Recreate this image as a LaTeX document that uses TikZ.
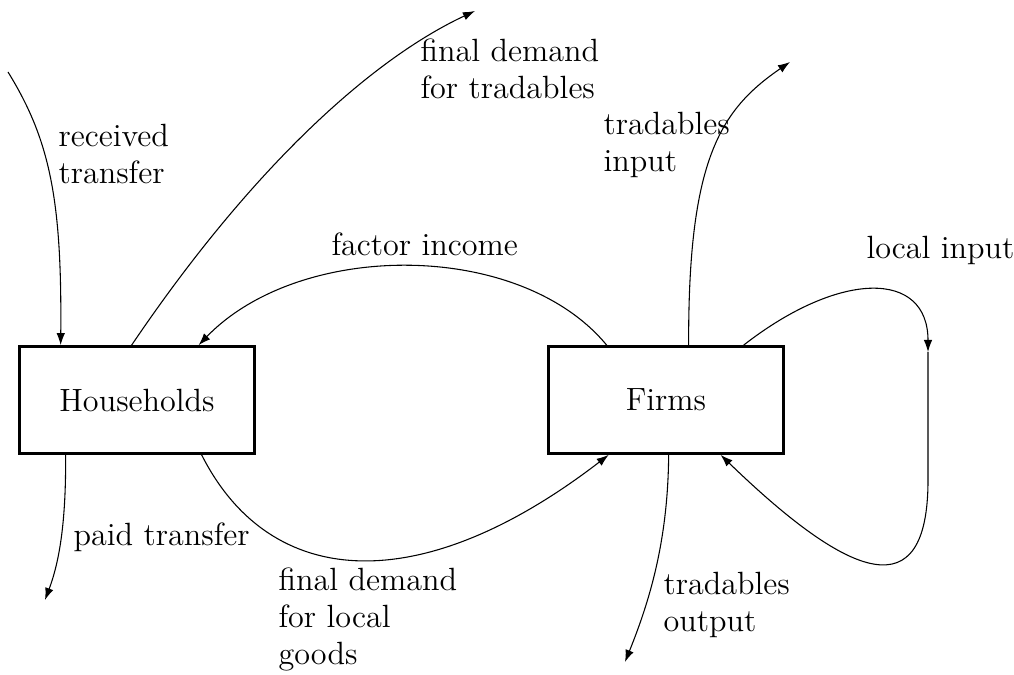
\documentclass[tikz,border=0pt]{standalone}
\usetikzlibrary{arrows.meta,calc}
\tikzset{
  sector/.style={draw,line width=1.1pt,minimum width=3.09cm,minimum height=1.40cm,inner sep=0pt},
  flow/.style={line width=0.4pt,-{Latex[length=4.5pt,width=3.2pt]}},
  lbl/.style={anchor=north west,inner sep=0pt,align=left}
}
\begin{document}
\begin{tikzpicture}[x=0.01311cm,y=-0.01311cm,font=\fontsize{12}{13.8}\selectfont]
        \useasboundingbox (0,0) rectangle (1014,675);

        \node[sector] (hh) at (137,400) {Households};
        \node[sector] (firm) at (666,400) {Firms};

        \coordinate (rt) at (8,72);
        \coordinate (fdt) at (475,11);
        \coordinate (ti) at (790,62);
        \coordinate (li) at (928,352);
        \coordinate (pt) at (45,600);
        \coordinate (to) at (625,662);

        \draw[flow] (rt) .. controls (50,140) and (62,200) .. ($(hh.north west)+(43,0)$);
        \draw[flow] ($(hh.north west)+(114,0)$) .. controls (250,170) and (370,60) .. (fdt);
        \draw[flow] ($(firm.north west)+(60,0)$) .. controls (520,240) and (300,240) .. ($(hh.north west)+(181,0)$);
        \draw[flow] ($(firm.north west)+(142,0)$) .. controls (688,160) and (720,110) .. (ti);
        \draw[flow] ($(firm.north west)+(197,0)$) .. controls (840,270) and (928,270) .. (li);
        \draw[flow] (li) -- (928,480) .. controls (928,610) and (850,580) .. ($(firm.south west)+(174,0)$);
        \draw[flow] ($(hh.south west)+(48,0)$) .. controls (66,520) and (60,560) .. (pt);
        \draw[flow] ($(hh.south west)+(184,0)$) .. controls (270,590) and (420,600) .. ($(firm.south west)+(62,0)$);
        \draw[flow] ($(firm.south west)+(122,0)$) .. controls (668,540) and (650,600) .. (to);

        \node[lbl] (l1) at (58,124) {received\\transfer};
        \node[lbl] (l2) at (420,38) {final demand\\for tradables};
        \node[lbl] (l3) at (603,112) {tradables\\input};
        \node[lbl] (l4) at (331,232) {factor income};
        \node[lbl] (l5) at (866,236) {local input};
        \node[lbl] (l6) at (73,522) {paid transfer};
        \node[lbl] (l7) at (278,567) {final demand\\for local\\goods};
        \node[lbl] (l8) at (663,572) {tradables\\output};
\end{tikzpicture}
\end{document}
